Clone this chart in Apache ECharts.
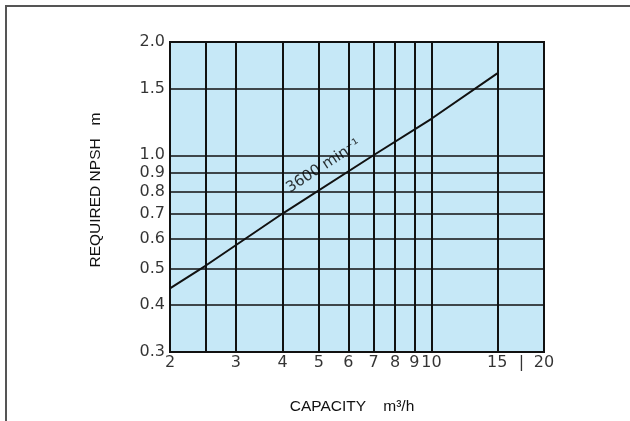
<!DOCTYPE html>
<html>
<head>
<meta charset="utf-8">
<script src="https://cdn.jsdelivr.net/npm/echarts@6/dist/echarts.min.js"></script>
<style>
  html, body { margin: 0; padding: 0; background: #fff; }
  #frame { position: absolute; left: 5px; top: 5px; width: 640px; height: 430px; border: 2px solid #555; box-sizing: border-box; }
  #chart { position: absolute; left: 0; top: 0; width: 630px; height: 421px; }
</style>
</head>
<body>
<div id="frame"></div>
<div id="chart"></div>
<script>
// curve (capacity m3/h, NPSH m)
const curveX = [2, 2.5, 4, 7, 10, 15];
const curveY = [0.443, 0.51, 0.70, 1.0, 1.25, 1.65];

const vGrid = [2.5, 3, 4, 5, 6, 7, 8, 9, 10, 15];
const hGrid = [0.4, 0.5, 0.6, 0.7, 0.8, 0.9, 1.0, 1.5];

const xTickValues = [2, 3, 4, 5, 6, 7, 8, 9, 10, 15, 17.4, 20];
const xTickLabels = ["2", "3", "4", "5", "6", "7", "8", "9", "10", "15", "|", "20"];
const yTickValues = [0.3, 0.4, 0.5, 0.6, 0.7, 0.8, 0.9, 1.0, 1.5, 2.0];
const yTickLabels = ["0.3", "0.4", "0.5", "0.6", "0.7", "0.8", "0.9", "1.0", "1.5", "2.0"];

const curveLabel = { x: 5.15, y: 0.935, text: "3600 min⁻¹" };

const X_MIN = 2, X_MAX = 20, Y_MIN = 0.3, Y_MAX = 2.0;
const ink = "#111";
const tickFont = { fontFamily: "DejaVu Sans", fontSize: 16, color: "#000" };
const titleFont = { fontFamily: "Liberation Sans", fontSize: 15.5, color: "#111" };

const chart = echarts.init(document.getElementById("chart"), null, { renderer: "canvas" });

chart.setOption({
  animation: false,
  grid: {
    left: 170, top: 42, width: 374, height: 310,
    show: true, backgroundColor: "#c6e8f7", borderColor: ink, borderWidth: 2
  },
  xAxis: {
    type: "log", logBase: 10, min: X_MIN, max: X_MAX,
    axisLine: { show: false }, axisTick: { show: false }, axisLabel: { show: false }, splitLine: { show: false },
    name: "CAPACITY    m³/h", nameLocation: "middle", nameGap: 47,
    nameTextStyle: { ...titleFont, padding: [0, 10, 0, 0] }
  },
  yAxis: {
    type: "log", logBase: 10, min: Y_MIN, max: Y_MAX,
    axisLine: { show: false }, axisTick: { show: false }, axisLabel: { show: false }, splitLine: { show: false },
    name: "REQUIRED NPSH   m", nameLocation: "middle", nameGap: 66, nameRotate: 90,
    nameTextStyle: { ...titleFont, padding: [0, 0, 0, 14] }
  },
  series: [
    {
      name: "grid",
      type: "line",
      data: [],
      markLine: {
        silent: true,
        symbol: "none",
        label: { show: false },
        data: [
          ...vGrid.map((v) => ({ xAxis: v, lineStyle: { color: ink, width: 2, type: "solid" } })),
          ...hGrid.map((v) => ({ yAxis: v, lineStyle: { color: ink, width: 1.5, type: "solid" } }))
        ]
      }
    },
    {
      name: "3600",
      type: "line",
      data: curveX.map((x, i) => [x, curveY[i]]),
      showSymbol: false,
      lineStyle: { color: ink, width: 2 },
      z: 5
    },
    {
      name: "xTicks",
      type: "scatter",
      symbolSize: 0,
      data: xTickValues.map((v) => [v, Y_MIN]),
      label: {
        show: true, position: "bottom", distance: 3,
        formatter: (p) => xTickLabels[p.dataIndex],
        ...tickFont
      }
    },
    {
      name: "yTicks",
      type: "scatter",
      symbolSize: 0,
      data: yTickValues.map((v) => [X_MIN, v]),
      label: {
        show: true, position: "left", distance: 5,
        formatter: (p) => yTickLabels[p.dataIndex],
        ...tickFont
      }
    },
    {
      name: "curveLabel",
      type: "scatter",
      symbolSize: 0,
      data: [[curveLabel.x, curveLabel.y]],
      label: {
        show: true, position: "inside", rotate: 33,
        formatter: curveLabel.text,
        fontFamily: "DejaVu Sans", fontSize: 15, color: "#000"
      },
      z: 6
    }
  ]
});
</script>
</body>
</html>
